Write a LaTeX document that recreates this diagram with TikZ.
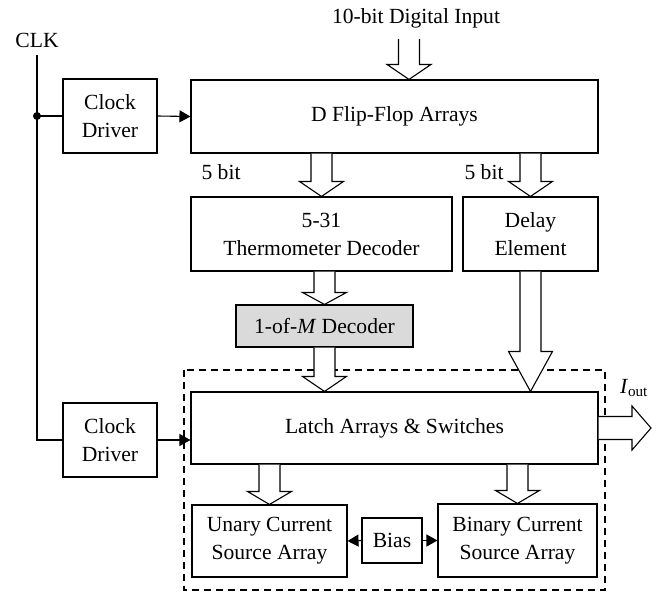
\documentclass[tikz,border=0pt]{standalone}
\usepackage{fontspec}
\setmainfont{Liberation Serif}
\usetikzlibrary{calc, positioning, arrows.meta}

\definecolor{decgray}{RGB}{218,218,218}

% hollow block arrow pointing down: start, tip, head length
\newcommand{\fatarrow}[3]{%
    \draw[fill=white] ($(#1)+(-10.5,0)$) -- ($(#2)+(-10.5,-#3)$) -- ($(#2)+(-22,-#3)$)
        -- (#2) -- ($(#2)+(22,-#3)$) -- ($(#2)+(10.5,-#3)$) -- ($(#1)+(10.5,0)$);}

\begin{document}
\begin{tikzpicture}[
        x=1pt, y=-1pt, line width=1.1pt,
        font=\fontsize{21.6}{28}\selectfont,
        box/.style = {draw, align=center, inner sep=0pt},
        clk/.style = {-{Triangle[length=11pt,width=12pt]}}
    ]
    \useasboundingbox (0,0) rectangle (656,592);

    %Bloecke
    \node (dff)[box, minimum width=407pt, minimum height=73pt] at (394.5,116.5){D Flip-Flop Arrays};
    \node (drv1)[box, minimum width=94pt, minimum height=74pt] at (110,116){Clock\\Driver};
    \node (drv2)[box, minimum width=94pt, minimum height=74pt] at (110,440){Clock\\Driver};
    \node (thermo)[box, minimum width=261pt, minimum height=74pt] at (321.5,234){5-31\\Thermometer Decoder};
    \node (delay)[box, minimum width=135pt, minimum height=74pt] at (530.5,234){Delay\\Element};
    \node (dec)[box, fill=decgray, minimum width=177pt, minimum height=42pt] at (324.5,326){1-of-\textit{M} Decoder};
    \node (latch)[box, minimum width=407pt, minimum height=72pt] at (394.5,428){Latch Arrays \& Switches};
    \node (unary)[box, minimum width=155pt, minimum height=72pt] at (269.5,541){Unary Current\\Source Array};
    \node (bias)[box, minimum width=60pt, minimum height=45pt] at (392,540.5){Bias};
    \node (binary)[box, minimum width=159pt, minimum height=73pt] at (517.5,540.5){Binary Current\\Source Array};

    %Rahmen
    \draw[dash pattern=on 7pt off 5pt] (184,370) rectangle (605,590);

    %Beschriftung
    \node (clklbl) at (37,40){CLK};
    \node (inlbl) at (416,18){10-bit Digital Input};
    \node (bitl) at (221,172){5 bit};
    \node (bitr) at (484,172){5 bit};
    \node (ioutlbl) at (634,388){\textit{I}\textsubscript{out}};

    %Takt
    \coordinate (clktop) at (37,55);
    \coordinate (split) at (clktop |- drv1.west);
    \coordinate (clkbot) at (clktop |- drv2.west);
    \draw (clktop) -- (clkbot) -- (drv2.west);
    \draw (split) -- (drv1.west);
    \fill (split) circle (4pt);
    \draw[clk] (drv1.east) -- (dff.west);
    \draw[clk] (drv2.east) -- (drv2.east -| latch.west);

    %Pfeile
    \coordinate (insrc) at (409,39);
    \coordinate (intip) at (insrc |- dff.north);
    \fatarrow{insrc}{intip}{15}
    \coordinate (a1s) at (dff.south -| thermo.north);
    \fatarrow{a1s}{thermo.north}{15}
    \coordinate (a2s) at (dff.south -| delay.north);
    \fatarrow{a2s}{delay.north}{15}
    \coordinate (a3s) at (thermo.south -| dec.north);
    \fatarrow{a3s}{dec.north}{12}
    \coordinate (a4t) at (latch.north -| dec.south);
    \fatarrow{dec.south}{a4t}{15}
    \coordinate (a5t) at (latch.north -| delay.south);
    \fatarrow{delay.south}{a5t}{40}
    \coordinate (a6s) at (latch.south -| unary.north);
    \fatarrow{a6s}{unary.north}{13}
    \coordinate (a7s) at (latch.south -| binary.north);
    \fatarrow{a7s}{binary.north}{13}

    %Ausgang
    \coordinate (iout) at (651,428);
    \draw[fill=white] ($(latch.east)+(0,-11.5)$) -- ($(iout)+(-19,-11.5)$) -- ($(iout)+(-19,-22)$)
        -- (iout) -- ($(iout)+(-19,22)$) -- ($(iout)+(-19,11.5)$) -- ($(latch.east)+(0,11.5)$);

    %Bias
    \draw[clk] (bias.west) -- (unary.east);
    \draw[clk] (bias.east) -- (binary.west);
\end{tikzpicture}
\end{document}
